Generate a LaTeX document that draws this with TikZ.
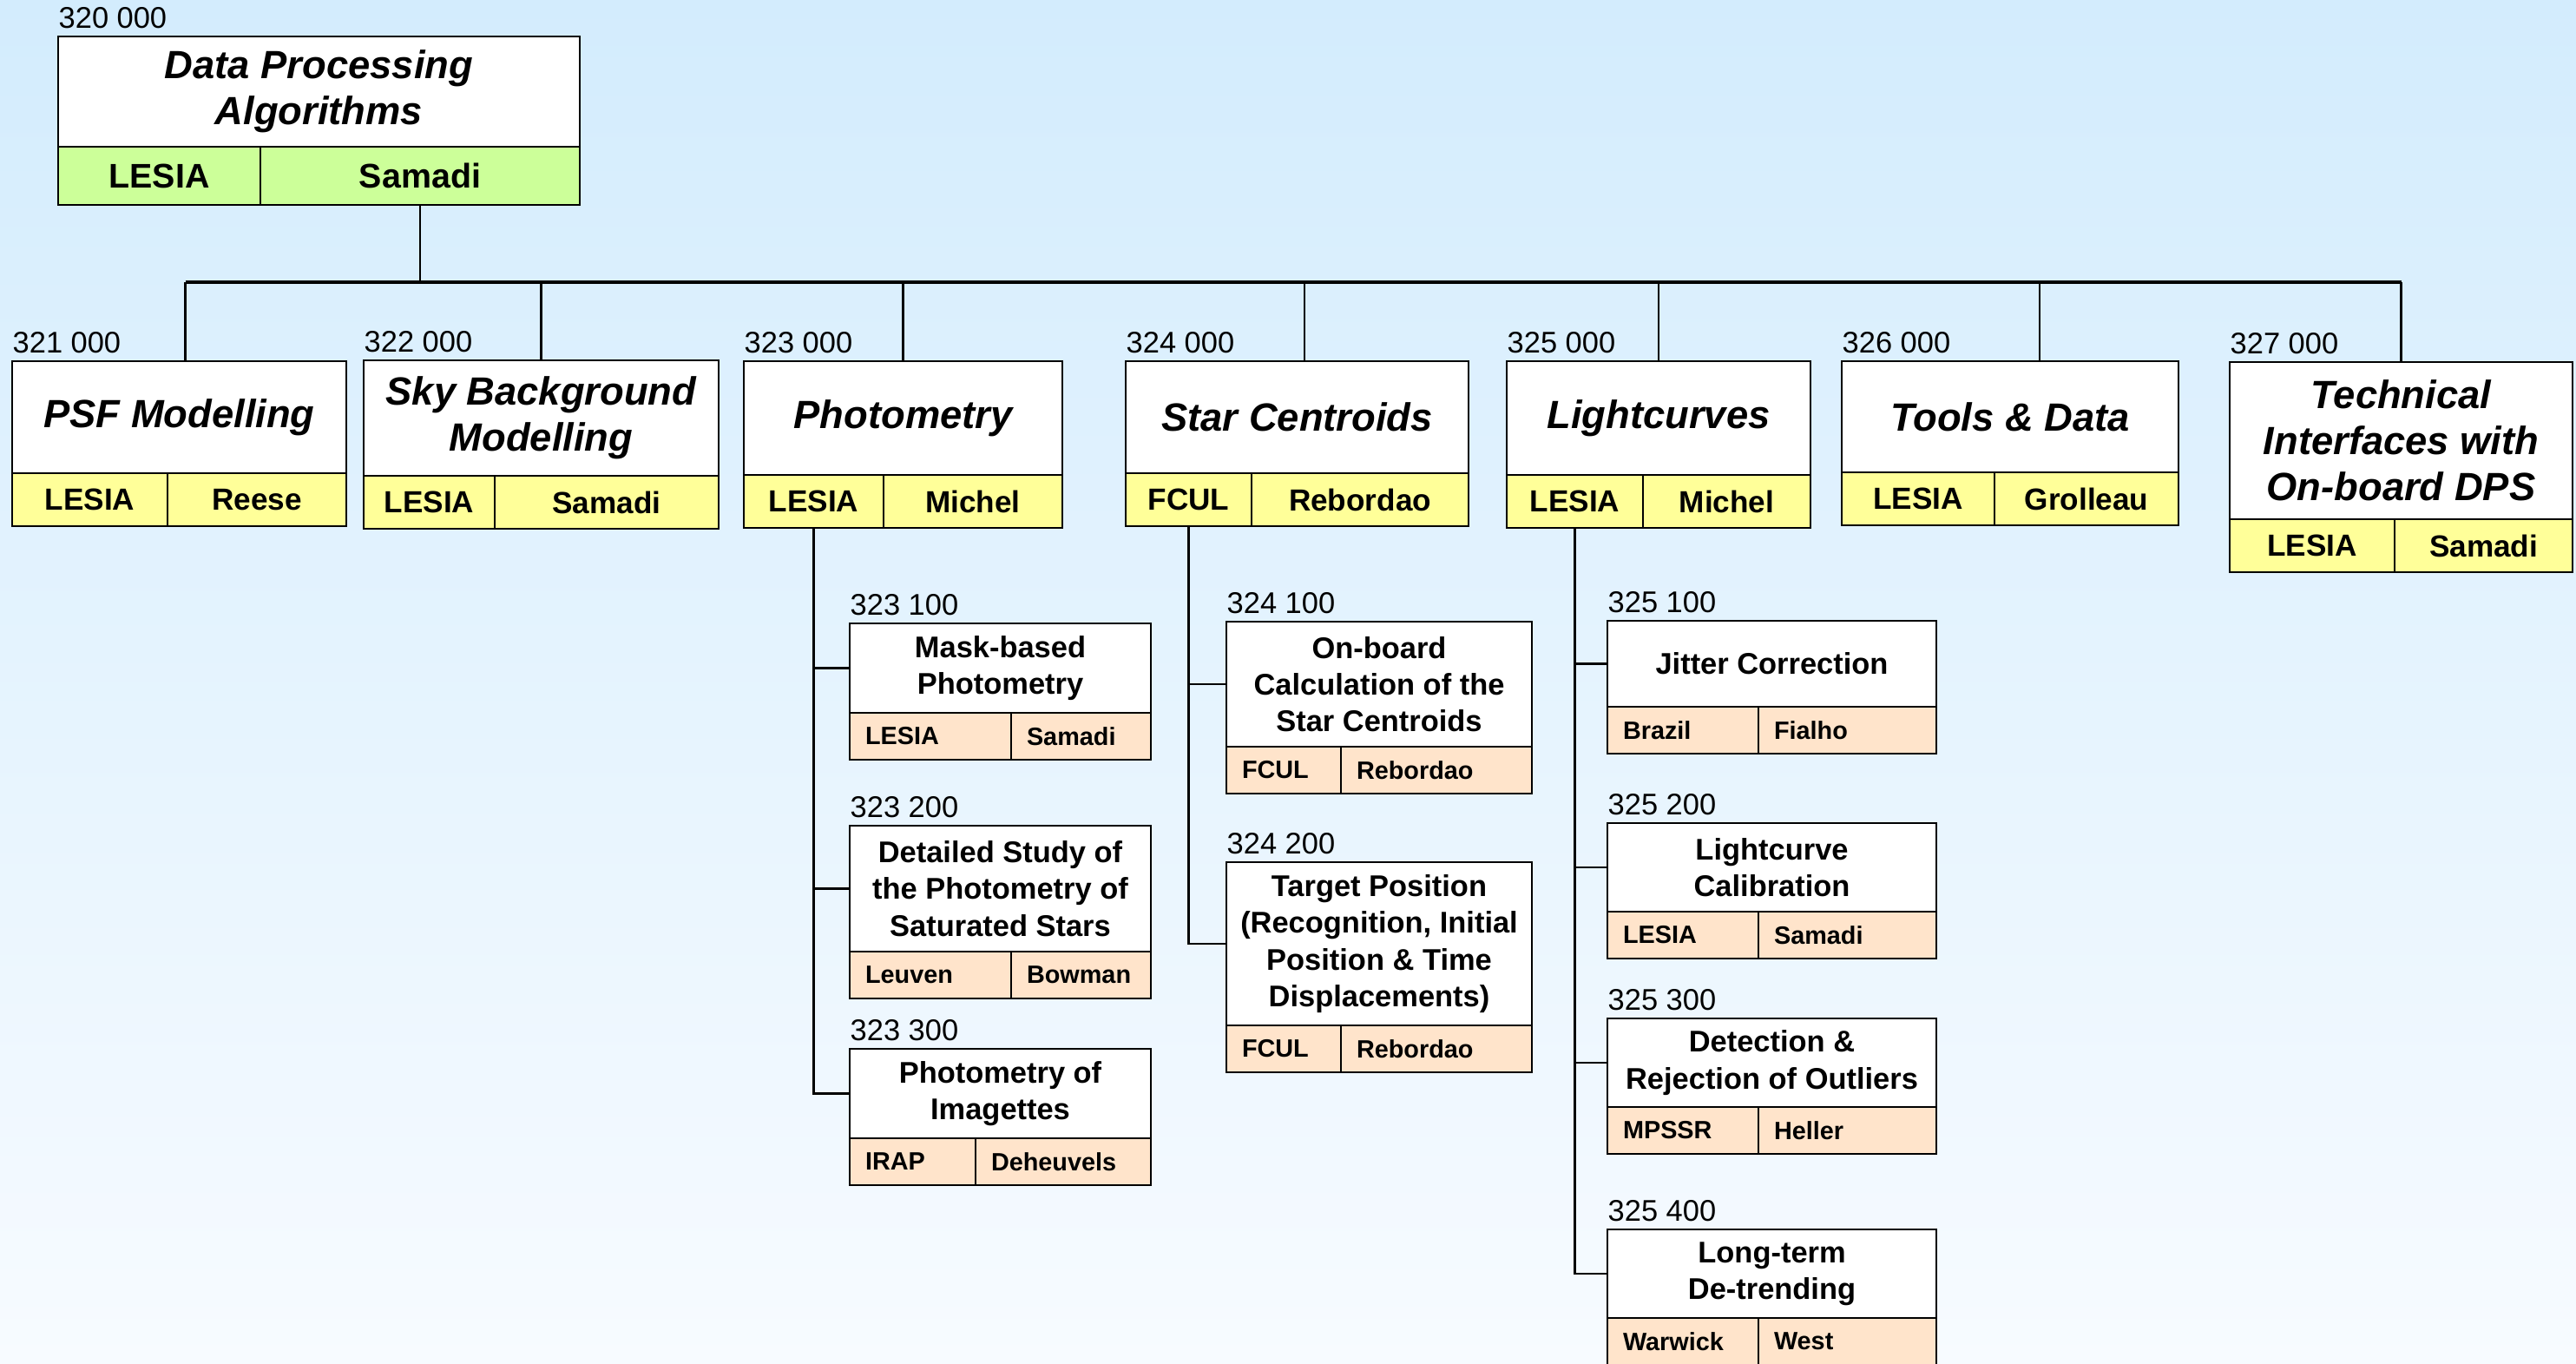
\documentclass[tikz,border=0pt]{standalone}
\usepackage{fontspec}
\setmainfont{Liberation Sans}
\usepackage{tikz}

\definecolor{bgtop}{RGB}{211,236,253}
\definecolor{bgbot}{RGB}{247,251,255}
\definecolor{topgreen}{RGB}{204,255,153}
\definecolor{wpyellow}{RGB}{255,255,153}
\definecolor{subpeach}{RGB}{255,228,203}

\begin{document}
\begin{tikzpicture}
	[y=-1cm,
	 box/.style={draw,line width=0.8pt,fill=white,inner sep=1pt,outer sep=0pt,align=center,anchor=north west},
	 toptitle/.style={box,font=\fontsize{12.9}{15}\selectfont\bfseries\itshape},
	 subtitle/.style={box,font=\fontsize{9.8}{12}\selectfont\bfseries},
	 owner/.style={draw,line width=0.8pt,inner sep=0pt,outer sep=0pt,anchor=north west,minimum height=0.61cm,
	   font=\fontsize{10}{12}\selectfont\bfseries},
	 subowner/.style={owner,fill=subpeach,minimum height=0.54cm,inner xsep=0.18cm,align=left,
	   font=\fontsize{8.2}{10}\selectfont\bfseries},
	 numlabel/.style={anchor=south west,inner sep=0pt,font=\fontsize{9.8}{12}\selectfont},
	 conn/.style={line width=0.75pt},
	 busline/.style={line width=1.1pt}]
\useasboundingbox (0,0) rectangle (29.68,15.70);
\shade[top color=bgtop,bottom color=bgbot] (0,0) rectangle (29.68,15.70);
\coordinate (bus) at (0,3.25);
% top of the tree
\node[toptitle,minimum width=6.01cm,minimum height=1.27cm] (dpa) at (0.67,0.42) {Data Processing\\Algorithms};
\node[owner,fill=topgreen,minimum width=2.33cm,minimum height=0.67cm,font=\fontsize{11.2}{13}\selectfont\bfseries] (dpa-a) at (dpa.south west) {LESIA};
\node[owner,fill=topgreen,minimum width=3.68cm,minimum height=0.67cm,font=\fontsize{11.2}{13}\selectfont\bfseries] (dpa-b) at (dpa-a.north east) {Samadi};
\node[numlabel] (dpa-num) at ([yshift=0.08cm]dpa.north west) {320 000};
% work packages
\foreach \n/\x/\y/\w/\hh/\wa/\dx/\code/\ttl/\oa/\ob in {
  psf/0.14/4.16/3.85/1.29/1.79/0.07/321 000/PSF Modelling/LESIA/Reese,
  sky/4.19/4.15/4.09/1.33/1.51/0/322 000/Sky Background\\Modelling/LESIA/Samadi,
  phot/8.57/4.16/3.67/1.31/1.61/0/323 000/Photometry/LESIA/Michel,
  cent/12.97/4.16/3.95/1.29/1.45/0.085/324 000/Star Centroids/FCUL/Rebordao,
  lc/17.36/4.16/3.50/1.31/1.57/0/325 000/Lightcurves/LESIA/Michel,
  tools/21.22/4.16/3.88/1.28/1.76/0.34/326 000/Tools \& Data/LESIA/Grolleau,
  tif/25.69/4.17/3.95/1.81/1.90/0/327 000/Technical\\Interfaces with\\On-board DPS/LESIA/Samadi}
{
  \pgfmathsetmacro\wb{\w-\wa}
  \node[toptitle,minimum width=\w cm,minimum height=\hh cm] (\n) at (\x,\y) {\ttl};
  \node[owner,fill=wpyellow,minimum width=\wa cm] (\n-a) at (\n.south west) {\oa};
  \node[owner,fill=wpyellow,minimum width=\wb cm] (\n-b) at (\n-a.north east) {\ob};
  \node[numlabel] (\n-num) at ([yshift=0.08cm]\n.north west) {\code};
  \coordinate (\n-up) at ([xshift=\dx cm]\n.north);
  \draw[conn] (\n-up) -- (\n-up |- bus);
}
\draw[busline] (psf-up |- bus) -- (tif-up |- bus);
\draw[conn] (dpa-b.south) -- (dpa-b.south |- bus);
% sub packages
\foreach \n/\p/\x/\y/\w/\hh/\wa/\code/\ttl/\oa/\ob in {
  phot1/phot/9.79/7.18/3.47/1.03/1.86/323 100/Mask-based\\Photometry/LESIA/Samadi,
  phot2/phot/9.79/9.51/3.47/1.45/1.86/323 200/Detailed Study of\\the Photometry of\\Saturated Stars/Leuven/Bowman,
  phot3/phot/9.79/12.08/3.47/1.03/1.45/323 300/Photometry of\\Imagettes/IRAP/Deheuvels,
  cent1/cent/14.13/7.16/3.52/1.44/1.32/324 100/On-board\\Calculation of the\\Star Centroids/FCUL/Rebordao,
  cent2/cent/14.13/9.93/3.52/1.88/1.32/324 200/Target Position\\(Recognition{,} Initial\\Position \& Time\\Displacements)/FCUL/Rebordao,
  lc1/lc/18.52/7.15/3.79/0.99/1.74/325 100/Jitter Correction/Brazil/Fialho,
  lc2/lc/18.52/9.48/3.79/1.02/1.74/325 200/Lightcurve\\Calibration/LESIA/Samadi,
  lc3/lc/18.52/11.73/3.79/1.02/1.74/325 300/Detection \&\\Rejection of Outliers/MPSSR/Heller,
  lc4/lc/18.52/14.16/3.79/1.02/1.74/325 400/Long-term\\De-trending/Warwick/West}
{
  \pgfmathsetmacro\wb{\w-\wa}
  \pgfmathsetmacro\ta{\wa-0.36}
  \pgfmathsetmacro\tb{\wb-0.36}
  \node[subtitle,minimum width=\w cm,minimum height=\hh cm] (\n) at (\x,\y) {\ttl};
  \node[subowner,minimum width=\wa cm,text width=\ta cm] (\n-a) at (\n.south west) {\oa};
  \node[subowner,minimum width=\wb cm,text width=\tb cm] (\n-b) at (\n-a.north east) {\ob};
  \node[numlabel] (\n-num) at ([yshift=0.08cm]\n.north west) {\code};
  \draw[conn] (\p-a.south) |- (\n.west);
}
\end{tikzpicture}
\end{document}
